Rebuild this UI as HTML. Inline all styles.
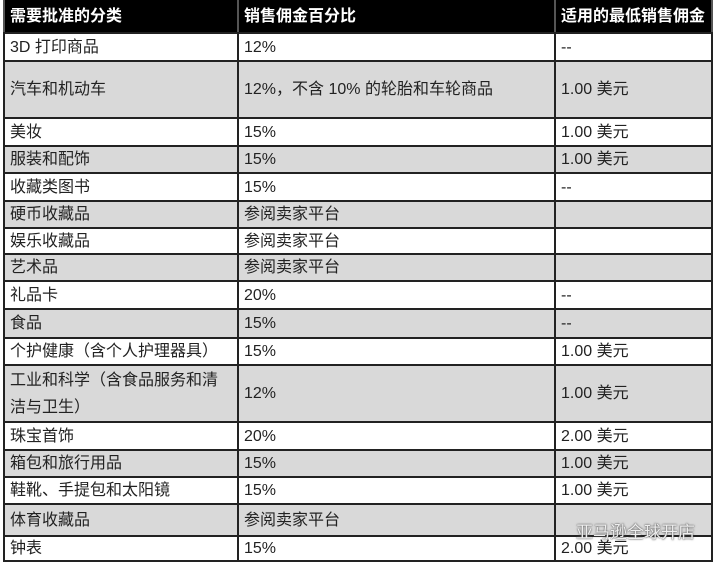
<!DOCTYPE html>
<html><head><meta charset="utf-8"><style>
body{margin:0;width:720px;height:567px;background:#fff;position:relative;overflow:hidden;font-family:"Liberation Sans","Noto Sans CJK SC",sans-serif;}
.r{position:absolute;left:3px;width:710px;border-top:2px solid #222;box-sizing:border-box;}
.c{position:absolute;top:0;bottom:0;display:flex;align-items:center;padding-left:5px;padding-right:4px;font-size:16px;color:#222;box-sizing:border-box;line-height:27px;}
.c1{left:0;width:234px;border-left:2px solid #222;}
.c2{left:234px;width:317px;border-left:2px solid #222;}
.c3{left:551px;width:159px;border-left:2px solid #222;border-right:2px solid #222;}
.g{background:#d9d9d9;}
.h{background:#000;}
.h .c{color:#fff;font-weight:bold;border-color:#555;font-size:16px;}
.wm{position:absolute;left:576px;top:518px;font-size:17px;color:#eee;text-shadow:0 0 2px #555,0 0 1px #555;}
</style></head><body>
<div class="r h" style="top:0;height:33px;border-top:none"><div class="c c1">需要批准的分类</div><div class="c c2">销售佣金百分比</div><div class="c c3">适用的最低销售佣金</div></div>
<div class="r" style="top:32px;height:28px"><div class="c c1">3D 打印商品</div><div class="c c2">12%</div><div class="c c3">--</div></div>
<div class="r g" style="top:60px;height:57px"><div class="c c1">汽车和机动车</div><div class="c c2">12%，不含 10% 的轮胎和车轮商品</div><div class="c c3">1.00 美元</div></div>
<div class="r" style="top:117px;height:28px"><div class="c c1">美妆</div><div class="c c2">15%</div><div class="c c3">1.00 美元</div></div>
<div class="r g" style="top:145px;height:27px"><div class="c c1">服装和配饰</div><div class="c c2">15%</div><div class="c c3">1.00 美元</div></div>
<div class="r" style="top:172px;height:28px"><div class="c c1">收藏类图书</div><div class="c c2">15%</div><div class="c c3">--</div></div>
<div class="r g" style="top:200px;height:27px"><div class="c c1">硬币收藏品</div><div class="c c2">参阅卖家平台</div><div class="c c3"></div></div>
<div class="r" style="top:227px;height:26px"><div class="c c1">娱乐收藏品</div><div class="c c2">参阅卖家平台</div><div class="c c3"></div></div>
<div class="r g" style="top:253px;height:27px"><div class="c c1">艺术品</div><div class="c c2">参阅卖家平台</div><div class="c c3"></div></div>
<div class="r" style="top:280px;height:28px"><div class="c c1">礼品卡</div><div class="c c2">20%</div><div class="c c3">--</div></div>
<div class="r g" style="top:308px;height:29px"><div class="c c1">食品</div><div class="c c2">15%</div><div class="c c3">--</div></div>
<div class="r" style="top:337px;height:27px"><div class="c c1">个护健康（含个人护理器具）</div><div class="c c2">15%</div><div class="c c3">1.00 美元</div></div>
<div class="r g" style="top:364px;height:57px"><div class="c c1">工业和科学（含食品服务和清<br>洁与卫生）</div><div class="c c2">12%</div><div class="c c3">1.00 美元</div></div>
<div class="r" style="top:421px;height:28px"><div class="c c1">珠宝首饰</div><div class="c c2">20%</div><div class="c c3">2.00 美元</div></div>
<div class="r g" style="top:449px;height:27px"><div class="c c1">箱包和旅行用品</div><div class="c c2">15%</div><div class="c c3">1.00 美元</div></div>
<div class="r" style="top:476px;height:27px"><div class="c c1">鞋靴、手提包和太阳镜</div><div class="c c2">15%</div><div class="c c3">1.00 美元</div></div>
<div class="r g" style="top:503px;height:32px"><div class="c c1">体育收藏品</div><div class="c c2">参阅卖家平台</div><div class="c c3"></div></div>
<div class="r" style="top:535px;height:27px;border-bottom:2px solid #222"><div class="c c1">钟表</div><div class="c c2">15%</div><div class="c c3">2.00 美元</div></div>
<div class="wm">亚马逊全球开店</div>
</body></html>
